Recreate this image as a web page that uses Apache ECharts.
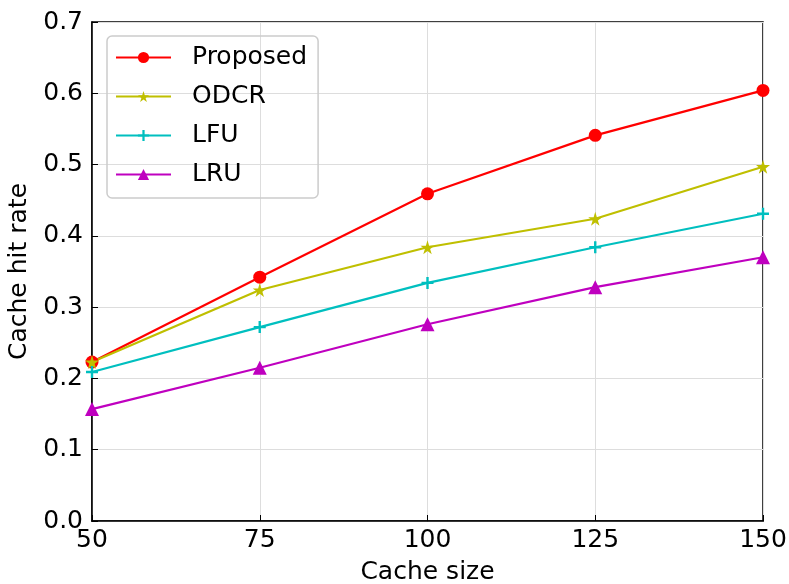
<!DOCTYPE html>
<html>
<head>
<meta charset="utf-8">
<script src="https://cdn.jsdelivr.net/npm/echarts@6/dist/echarts.min.js"></script>
<style>
html, body { margin: 0; padding: 0; background: #fff; }
#chart { width: 789px; height: 584px; }
</style>
</head>
<body>
<div id="chart"></div>
<script>
var cacheSize = [50, 75, 100, 125, 150];
var proposed = [0.223, 0.342, 0.459, 0.541, 0.604];
var odcr = [0.223, 0.324, 0.384, 0.424, 0.497];
var lfu = [0.209, 0.272, 0.334, 0.384, 0.431];
var lru = [0.157, 0.215, 0.276, 0.328, 0.370];

var plusPath = 'path://M4,0L6,0L6,4L10,4L10,6L6,6L6,10L4,10L4,6L0,6L0,4L4,4Z';
var starPath = 'path://M50,0L61,35L98,35L68,57L79,91L50,70L21,91L32,57L2,35L39,35Z';

function pairs(vals) {
    return cacheSize.map(function (x, i) { return [x, vals[i]]; });
}

function makeSeries(name, vals, color, symbol, size) {
    return {
        name: name,
        type: 'line',
        data: pairs(vals),
        symbol: symbol,
        symbolSize: size,
        clip: true,
        lineStyle: { color: color, width: 2.2 },
        itemStyle: { color: color },
        emphasis: { disabled: true },
        animation: false
    };
}

var myChart = echarts.init(document.getElementById('chart'));

var font = 'DejaVu Sans';
var fs = 25;
var option = {
    textStyle: { fontFamily: font },
    grid: {
        left: 92, right: 26, top: 22, bottom: 63,
        outerBoundsMode: 'none', containLabel: false,
        show: true, borderColor: '#000', borderWidth: 1.5, backgroundColor: 'transparent'
    },
    legend: {
        left: 107, top: 36,
        orient: 'vertical',
        itemWidth: 55, itemHeight: 14, itemGap: 14,
        padding: [9, 11, 11, 8],
        borderColor: '#ccc', borderWidth: 1.5, borderRadius: 5,
        textStyle: { fontSize: fs, lineHeight: 25, color: '#000', fontFamily: font, padding: [0, 0, 0, 16] },
        data: ['Proposed', 'ODCR', 'LFU', 'LRU']
    },
    xAxis: {
        type: 'value',
        min: 50, max: 150, interval: 25,
        name: 'Cache size', nameLocation: 'middle', nameGap: 39,
        nameTextStyle: { fontSize: fs, color: '#000', fontFamily: font },
        axisLine: { show: true, lineStyle: { color: '#000', width: 1.5 } },
        axisTick: { show: true, inside: true, length: 6, lineStyle: { color: '#000' } },
        axisLabel: { fontSize: fs, color: '#000', margin: 7, fontFamily: font },
        splitLine: { show: true, lineStyle: { color: '#ddd', width: 1 } }
    },
    yAxis: {
        type: 'value',
        min: 0, max: 0.7, interval: 0.1,
        name: 'Cache hit rate', nameLocation: 'middle', nameGap: 56,
        nameTextStyle: { fontSize: fs, color: '#000', fontFamily: font },
        axisLine: { show: true, lineStyle: { color: '#000', width: 1.5 } },
        axisTick: { show: true, inside: true, length: 6, lineStyle: { color: '#000' } },
        axisLabel: {
            fontSize: fs, color: '#000', margin: 9, fontFamily: font,
            formatter: function (v) { return v.toFixed(1); }
        },
        splitLine: { show: true, lineStyle: { color: '#ddd', width: 1 } }
    },
    series: [
        makeSeries('Proposed', proposed, '#ff0000', 'circle', 13),
        makeSeries('ODCR', odcr, '#bfbf00', starPath, 14),
        makeSeries('LFU', lfu, '#00bfbf', plusPath, 12),
        makeSeries('LRU', lru, '#bf00bf', 'triangle', 14)
    ]
};
myChart.setOption(option);
</script>
</body>
</html>
